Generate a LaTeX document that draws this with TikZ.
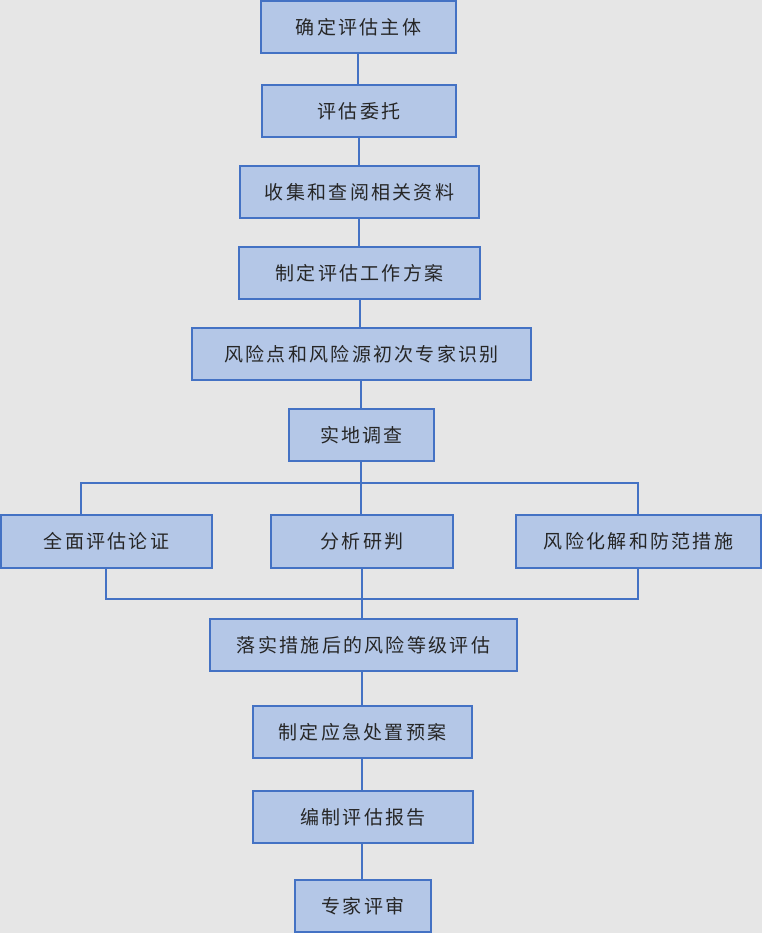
\documentclass[tikz,border=0pt]{standalone}
\usepackage{fontspec}
\newfontfamily\cjk[LetterSpace=12]{Noto Sans CJK SC}
\definecolor{bg}{HTML}{E6E6E6}
\definecolor{bfill}{HTML}{B4C7E7}
\definecolor{bline}{HTML}{4472C4}
\tikzset{box/.style={draw=bline,line width=2.2pt,fill=bfill,inner sep=0pt,font=\cjk\fontsize{19}{22}\selectfont,text=black!85},
ln/.style={draw=bline,line width=2.2pt}}
\newcommand{\bx}[6]{\node[box,minimum width=#4-#2,minimum height=#5-#3] (#1) at ({(#2+#4)/2},{(#3+#5)/2}) {#6};}
\begin{document}
\begin{tikzpicture}[x=1pt,y=-1pt]
\fill[bg] (0,0) rectangle (762,933);
\useasboundingbox (0,0) rectangle (762,933);
\draw[ln] (358,53) -- (358,85);
\draw[ln] (359,137) -- (359,166);
\draw[ln] (359,218) -- (359,247);
\draw[ln] (360,299) -- (360,328);
\draw[ln] (361,380) -- (361,409);
\coordinate (b1) at (361,483);
\draw[ln] (361,461) -- (b1);
\draw[ln] (81,515) -- (81,483) -- (638,483) -- (638,515);
\draw[ln] (b1) -- (361,515);
\coordinate (b2) at (362,599);
\draw[ln] (106,568) -- (106,599) -- (638,599) -- (638,568);
\draw[ln] (362,568) -- (362,619);
\draw[ln] (362,671) -- (362,706);
\draw[ln] (362,758) -- (362,791);
\draw[ln] (362,843) -- (362,880);
\bx{n1}{261}{1}{456}{53}{确定评估主体}
\bx{n2}{262}{85}{456}{137}{评估委托}
\bx{n3}{240}{166}{479}{218}{收集和查阅相关资料}
\bx{n4}{239}{247}{480}{299}{制定评估工作方案}
\bx{n5}{192}{328}{531}{380}{风险点和风险源初次专家识别}
\bx{n6}{289}{409}{434}{461}{实地调查}
\bx{n7}{1}{515}{212}{568}{全面评估论证}
\bx{n8}{271}{515}{453}{568}{分析研判}
\bx{n9}{516}{515}{761}{568}{风险化解和防范措施}
\bx{n10}{210}{619}{517}{671}{落实措施后的风险等级评估}
\bx{n11}{253}{706}{472}{758}{制定应急处置预案}
\bx{n12}{253}{791}{473}{843}{编制评估报告}
\bx{n13}{295}{880}{431}{932}{专家评审}
\end{tikzpicture}
\end{document}
